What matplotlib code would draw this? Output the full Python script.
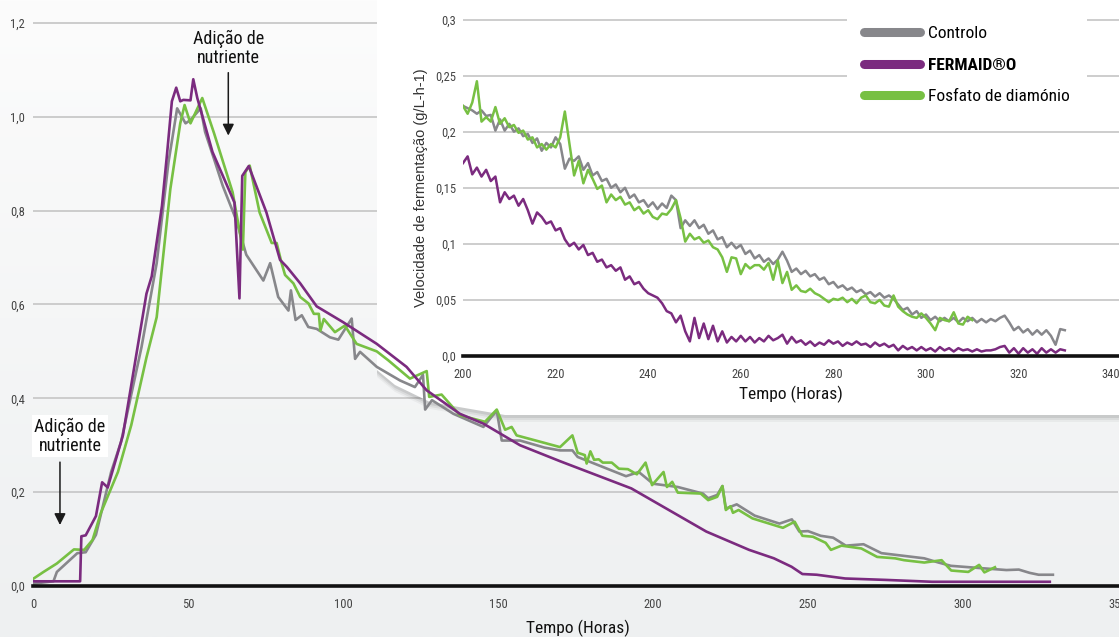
import matplotlib
matplotlib.use('Agg')
import matplotlib.pyplot as plt
import numpy as np
from matplotlib import font_manager
from matplotlib.lines import Line2D
from matplotlib.patches import Polygon

# procura uma fonte estreita instalada
names = {f.name for f in font_manager.fontManager.ttflist}
narrow = [n for n in ['Liberation Sans Narrow', 'Roboto Condensed', 'Open Sans Condensed',
                      'DejaVu Sans Condensed'] if n in names]
condensed_files = [f for f in font_manager.fontManager.ttflist
                   if f.name == 'DejaVu Sans' and f.stretch == 'condensed']
plt.rcParams['font.family'] = narrow + ['DejaVu Sans']
if not narrow and condensed_files:
    plt.rcParams['font.stretch'] = 'condensed'

# --- dados do gráfico principal (Tempo em horas, velocidade g/L-h-1) ---
t_ctrl = [0, 6.6, 7.7, 14.3, 17, 20.3, 25.2, 28.4, 35, 39.9, 43.7, 46.5, 49.2, 50.8, 54.1, 55.5,
          58.4, 61.2, 65.5, 67.7, 68.8, 74.3, 76.5, 79.1, 82.4, 83.2, 84.7, 86.7, 88.8, 91.5, 95.8,
          98.5, 102.8, 103.9, 105.5, 110.9, 118.4, 123.2, 125.8, 126.5, 128.7, 135.6, 145.3, 149.6,
          151.2, 157.1, 165, 170, 174, 175.7, 191.3, 195.4, 200, 208, 216.1, 217.8, 220.7, 222.4,
          223.5, 227, 232.8, 240.8, 244.8, 247.2, 250, 254.1, 258.1, 262.2, 267.9, 273.7, 287.5,
          292.1, 296.1, 305.9, 314, 318, 321.5, 324.4, 329]
v_ctrl = [0.005, 0.01, 0.03, 0.07, 0.072, 0.109, 0.243, 0.307, 0.509, 0.688, 0.903, 1.018, 0.986,
          0.993, 1.018, 0.968, 0.91, 0.853, 0.781, 0.731, 0.706, 0.651, 0.688, 0.616, 0.587, 0.63,
          0.567, 0.577, 0.552, 0.548, 0.53, 0.525, 0.57, 0.484, 0.499, 0.467, 0.438, 0.424, 0.45,
          0.376, 0.396, 0.367, 0.339, 0.374, 0.31, 0.31, 0.295, 0.289, 0.289, 0.275, 0.234, 0.243,
          0.218, 0.211, 0.197, 0.187, 0.194, 0.213, 0.165, 0.174, 0.15, 0.133, 0.142, 0.116, 0.117,
          0.107, 0.103, 0.086, 0.089, 0.07, 0.059, 0.05, 0.043, 0.038, 0.034, 0.035, 0.028, 0.024,
          0.024]

t_ferm = [0, 15.2, 15.6, 17, 20.3, 22.3, 24.1, 29, 36.6, 38.3, 41.6, 43.2, 44.8, 46.2, 47.5, 48.5,
          50.8, 51.7, 53, 57.9, 65, 66.6, 67.5, 69.6, 75.3, 79.7, 81.9, 86.2, 91.5, 100.1, 110.9,
          120.5, 127, 137.7, 145.3, 157.1, 170, 193, 217.2, 231, 239, 244.7, 248.2, 252.8, 262,
          275, 290, 310, 328]
v_ferm = [0.01, 0.01, 0.106, 0.108, 0.149, 0.221, 0.21, 0.321, 0.623, 0.66, 0.81, 0.918, 1.033,
          1.062, 1.033, 1.036, 1.035, 1.08, 1.04, 0.925, 0.817, 0.613, 0.874, 0.895, 0.796, 0.695,
          0.68, 0.645, 0.596, 0.562, 0.516, 0.467, 0.417, 0.367, 0.346, 0.30, 0.266, 0.208, 0.116,
          0.077, 0.059, 0.041, 0.0255, 0.024, 0.016, 0.013, 0.009, 0.009, 0.009]

t_dap = [0, 3.4, 7.7, 13.2, 16.5, 19.2, 21.9, 27.4, 31.7, 36.6, 39.9, 44.3, 47.5, 48.9, 50.8, 54.6,
         58.4, 64.4, 67.7, 68.5, 69.9, 73.1, 77, 78.6, 80.2, 81.3, 84, 86.2, 88.9, 90.6, 92.2, 92.7,
         93.8, 97.4, 100.6, 104.4, 110.9, 114.6, 121.6, 127, 127.8, 131.8, 137.7, 145.8, 149.6,
         152.3, 154.4, 156, 165, 170, 174, 175.7, 178, 178.6, 179.8, 181, 182.5, 183.8, 186.7,
         189, 191.9, 194.8, 197.6, 199.7, 203.4, 204.5, 206.2, 208, 215.4, 217.8, 220.7, 222.4,
         223.5, 225, 225.8, 227.6, 232.1, 241.9, 245.7, 248.2, 251.6, 255.7, 257.4, 260.8, 267.2,
         272.3, 278.1, 281, 287.5, 293.1, 296.2, 301.7, 305.2, 306.9, 310.3]
v_dap = [0.015, 0.03, 0.048, 0.078, 0.077, 0.098, 0.156, 0.243, 0.343, 0.487, 0.573, 0.846, 0.986,
         1.025, 0.986, 1.04, 0.965, 0.839, 0.717, 0.882, 0.896, 0.796, 0.731, 0.731, 0.688, 0.663,
         0.645, 0.616, 0.602, 0.58, 0.58, 0.544, 0.569, 0.541, 0.555, 0.516, 0.5, 0.481, 0.442,
         0.458, 0.403, 0.408, 0.364, 0.35, 0.376, 0.333, 0.339, 0.321, 0.305, 0.296, 0.321, 0.284,
         0.279, 0.261, 0.287, 0.269, 0.27, 0.263, 0.263, 0.25, 0.249, 0.238, 0.263, 0.215, 0.243,
         0.211, 0.222, 0.199, 0.197, 0.183, 0.19, 0.213, 0.162, 0.17, 0.156, 0.162, 0.144, 0.124,
         0.137, 0.107, 0.105, 0.092, 0.077, 0.086, 0.08, 0.062, 0.059, 0.055, 0.05, 0.055, 0.033,
         0.03, 0.045, 0.029, 0.04]

# --- dados do gráfico inserido (leituras horárias 200-330 h) ---
h_ctrl = np.arange(200, 331)
i_ctrl = [0.223, 0.221, 0.219, 0.216, 0.219, 0.214, 0.215, 0.201, 0.211, 0.201,
          0.207, 0.200, 0.203, 0.196, 0.198, 0.190, 0.194, 0.183, 0.190, 0.186,
          0.195, 0.189, 0.167, 0.176, 0.174, 0.178, 0.166, 0.172, 0.161, 0.164,
          0.156, 0.158, 0.150, 0.153, 0.146, 0.150, 0.141, 0.144, 0.137, 0.139,
          0.133, 0.137, 0.131, 0.136, 0.132, 0.143, 0.139, 0.114, 0.121, 0.116,
          0.121, 0.114, 0.117, 0.109, 0.112, 0.104, 0.106, 0.097, 0.101, 0.096,
          0.099, 0.091, 0.094, 0.087, 0.090, 0.084, 0.087, 0.082, 0.086, 0.093,
          0.085, 0.075, 0.078, 0.073, 0.076, 0.071, 0.073, 0.068, 0.070, 0.064,
          0.066, 0.061, 0.063, 0.059, 0.061, 0.057, 0.059, 0.055, 0.057, 0.053,
          0.056, 0.052, 0.054, 0.051, 0.046, 0.041, 0.043, 0.037, 0.040, 0.034,
          0.037, 0.032, 0.035, 0.031, 0.034, 0.031, 0.034, 0.030, 0.034, 0.031,
          0.034, 0.030, 0.033, 0.030, 0.033, 0.031, 0.034, 0.036, 0.030, 0.023,
          0.026, 0.021, 0.024, 0.019, 0.023, 0.019, 0.023, 0.018, 0.010, 0.024, 0.023]

h_ferm = np.arange(200, 331)
i_ferm = [0.172, 0.178, 0.162, 0.168, 0.160, 0.166, 0.156, 0.160, 0.137, 0.146,
          0.140, 0.143, 0.134, 0.140, 0.130, 0.118, 0.128, 0.124, 0.118, 0.120,
          0.112, 0.114, 0.104, 0.098, 0.101, 0.095, 0.099, 0.090, 0.092, 0.084,
          0.086, 0.079, 0.081, 0.076, 0.079, 0.068, 0.071, 0.064, 0.066, 0.060,
          0.056, 0.054, 0.052, 0.047, 0.040, 0.038, 0.030, 0.036, 0.022, 0.013,
          0.034, 0.016, 0.029, 0.015, 0.027, 0.013, 0.022, 0.012, 0.017, 0.013,
          0.018, 0.013, 0.017, 0.012, 0.016, 0.013, 0.018, 0.014, 0.016, 0.019,
          0.011, 0.017, 0.012, 0.014, 0.010, 0.013, 0.009, 0.012, 0.010, 0.014,
          0.011, 0.013, 0.009, 0.012, 0.010, 0.013, 0.010, 0.011, 0.008, 0.012,
          0.009, 0.011, 0.008, 0.010, 0.005, 0.009, 0.006, 0.008, 0.005, 0.008,
          0.005, 0.007, 0.004, 0.008, 0.005, 0.007, 0.004, 0.007, 0.005, 0.006,
          0.004, 0.006, 0.004, 0.005, 0.005, 0.006, 0.008, 0.009, 0.003, 0.007,
          0.002, 0.007, 0.003, 0.006, 0.002, 0.007, 0.003, 0.006, 0.003, 0.006, 0.005]

h_dap = np.arange(200, 311)
i_dap = [0.223, 0.216, 0.226, 0.245, 0.209, 0.213, 0.209, 0.222, 0.207, 0.212,
         0.204, 0.206, 0.199, 0.201, 0.193, 0.195, 0.186, 0.189, 0.184, 0.189,
         0.186, 0.195, 0.218, 0.189, 0.161, 0.174, 0.154, 0.166, 0.158, 0.149,
         0.152, 0.137, 0.144, 0.139, 0.142, 0.135, 0.137, 0.130, 0.133, 0.127,
         0.130, 0.124, 0.122, 0.127, 0.126, 0.131, 0.139, 0.123, 0.102, 0.109,
         0.104, 0.106, 0.101, 0.103, 0.097, 0.095, 0.088, 0.075, 0.088, 0.087,
         0.073, 0.082, 0.078, 0.081, 0.081, 0.077, 0.083, 0.068, 0.085, 0.065,
         0.075, 0.059, 0.063, 0.058, 0.057, 0.060, 0.056, 0.054, 0.051, 0.048,
         0.051, 0.050, 0.052, 0.048, 0.051, 0.047, 0.052, 0.054, 0.048, 0.047,
         0.050, 0.045, 0.044, 0.054, 0.044, 0.040, 0.037, 0.035, 0.034, 0.038,
         0.034, 0.029, 0.023, 0.034, 0.032, 0.031, 0.039, 0.029, 0.028, 0.035, 0.032]

labels = ['Controlo', 'FERMAID®O', 'Fosfato de diamónio']
colors = ['#87878b', '#7b2b7f', '#77c043']

main_ticks = [0, 0.2, 0.4, 0.6, 0.8, 1.0, 1.2]
main_ticklabels = ['0,0', '0,2', '0,4', '0,6', '0,8', '1,0', '1,2']
inset_ticks = [0, 0.05, 0.1, 0.15, 0.2, 0.25, 0.3]
inset_ticklabels = ['0,0', '0,05', '0,1', '0,15', '0,2', '0,25', '0,3']

W, H = 1119, 637
def fx(x):
    return x / W
def fy(y):
    return 1 - y / H

fig = plt.figure(figsize=(W / 100, H / 100), dpi=100)

# fundo levemente acinzentado
bg = fig.add_axes([0, 0, 1, 1], zorder=-5)
bg.axis('off')
grad = np.linspace(0, 1, 256).reshape(-1, 1)
bg.imshow(grad, aspect='auto', cmap=matplotlib.colors.LinearSegmentedColormap.from_list(
    'bg', ['#fcfcfc', '#eef0f1']), extent=[0, 1, 0, 1])

# gráfico principal
ax = fig.add_axes([fx(33), fy(586), fx(1118) - fx(33), fy(22) - fy(586)], zorder=0)
ax.patch.set_alpha(0)
ax.set_xlim(0, 350)
ax.set_ylim(0, 1.202)
for s in ['top', 'right', 'left']:
    ax.spines[s].set_visible(False)
ax.spines['bottom'].set_linewidth(2.6)
ax.spines['bottom'].set_color('#111111')
ax.set_yticks(main_ticks)
ax.set_yticklabels(main_ticklabels)
ax.set_xticks(np.arange(0, 351, 50))
ax.tick_params(axis='both', length=0, labelsize=9, colors='#444444')
ax.tick_params(axis='x', pad=9)
ax.tick_params(axis='y', pad=6)
ax.grid(axis='y', color='#c9c9c9', lw=1.3)
ax.set_axisbelow(True)

# caixa branca do gráfico inserido (com sombra)
box = [(377, 0), (1119, 0), (1119, 415), (505, 415), (430, 402), (395, 385), (377, 370)]
for k, a in [(7, 0.04), (5, 0.06), (3, 0.08)]:
    sh = Polygon([(fx(x), fy(y + k)) for x, y in box], closed=True, transform=fig.transFigure,
                 facecolor='#000000', alpha=a, edgecolor='none', zorder=0.9, clip_on=False)
    ax.add_patch(sh)
ax.add_patch(Polygon([(fx(x), fy(y)) for x, y in box], closed=True, transform=fig.transFigure,
                     facecolor='white', edgecolor='none', zorder=1, clip_on=False))

ax.plot(t_ctrl, v_ctrl, color=colors[0], lw=1.9, zorder=2)
ax.plot(t_dap, v_dap, color=colors[2], lw=1.9, zorder=2)
ax.plot(t_ferm, v_ferm, color=colors[1], lw=1.9, zorder=2)

arrow = dict(arrowstyle='-|>', color='#1a1a1a', lw=1.1, mutation_scale=17, shrinkA=0, shrinkB=0)
ax.annotate('', xy=(63, 0.96), xytext=(63, 1.094), arrowprops=arrow, zorder=3)
ax.text(63, 1.146, 'Adição de\nnutriente', ha='center', va='center', fontsize=13,
        linespacing=1.05, color='#111111', zorder=3)
ax.annotate('', xy=(8.7, 0.13), xytext=(8.7, 0.264), arrowprops=arrow, zorder=3)
ax.text(11.9, 0.319, 'Adição de\nnutriente', ha='center', va='center', fontsize=13,
        linespacing=1.05, color='#111111', zorder=3,
        bbox=dict(facecolor='white', edgecolor='none', pad=2))

fig.text(fx(578), fy(628), 'Tempo (Horas)', ha='center', va='center', fontsize=12.5, color='#111111')

# gráfico inserido
ax2 = fig.add_axes([fx(463), fy(356), fx(1119) - fx(463), fy(19) - fy(356)], zorder=1)
ax2.patch.set_alpha(0)
ax2.set_xlim(200, 341.7)
ax2.set_ylim(0, 0.3005)
for s in ['top', 'right', 'left']:
    ax2.spines[s].set_visible(False)
ax2.spines['bottom'].set_linewidth(2.6)
ax2.spines['bottom'].set_color('#111111')
ax2.set_yticks(inset_ticks)
ax2.set_yticklabels(inset_ticklabels)
ax2.set_xticks(np.arange(200, 341, 20))
ax2.tick_params(axis='both', length=0, labelsize=9, colors='#444444')
ax2.tick_params(axis='x', pad=9)
ax2.tick_params(axis='y', pad=5)
ax2.grid(axis='y', color='#c9c9c9', lw=1.3)
ax2.set_axisbelow(True)

ax2.plot(h_ctrl, i_ctrl, color=colors[0], lw=1.8)
ax2.plot(h_dap, i_dap, color=colors[2], lw=1.8)
ax2.plot(h_ferm, i_ferm, color=colors[1], lw=1.8)

handles = [Line2D([], [], color=c, lw=6.5, solid_capstyle='round') for c in colors]
leg = ax2.legend(handles, labels, loc='upper left', bbox_to_anchor=(fx(838), 1.0),
                 bbox_transform=fig.transFigure, fontsize=12.5, handlelength=3.2,
                 handletextpad=0.5, labelspacing=0.95, borderpad=1.0, fancybox=False)
leg.get_frame().set_facecolor('white')
leg.get_frame().set_edgecolor('none')
leg.get_frame().set_alpha(1)
leg.get_texts()[1].set_fontweight('bold')

fig.text(fx(791), fy(394), 'Tempo (Horas)', ha='center', va='center', fontsize=12.5, color='#111111')
fig.text(fx(421), fy(188), 'Velocidade de fermentação (g/L-h-1)', rotation=90, ha='center',
         va='center', fontsize=10.5, color='#333333', family=['Liberation Sans', 'DejaVu Sans'],
         stretch='normal')

fig.savefig('out.png', dpi=100)
